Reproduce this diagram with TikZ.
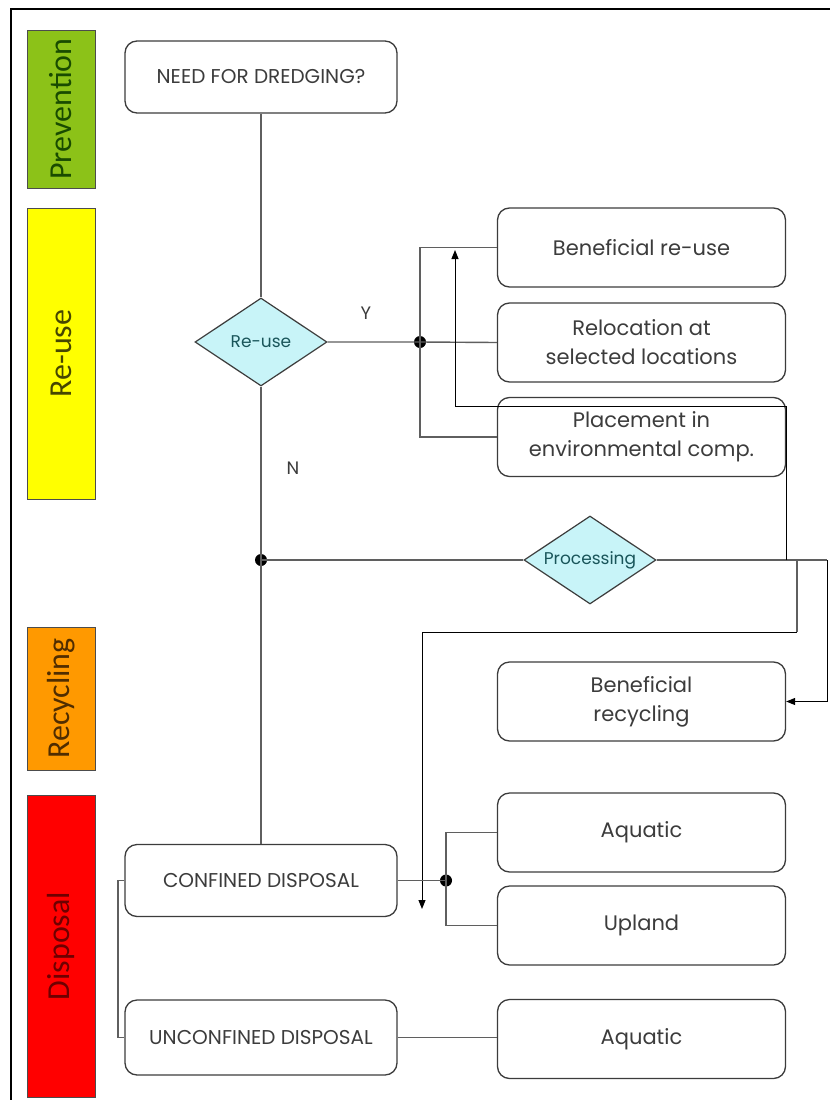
\documentclass[tikz,border=0pt]{standalone}
\usepackage{fontspec}
\usetikzlibrary{shapes.geometric,arrows.meta}
\newfontfamily\boxfont{Poppins}
\newfontfamily\barfont{Carlito}
\definecolor{linegray}{RGB}{95,95,95}
\definecolor{txtgray}{RGB}{60,60,60}
\definecolor{diafill}{RGB}{200,244,248}
\definecolor{diatext}{RGB}{25,85,90}
\definecolor{prevfill}{RGB}{140,194,24}
\definecolor{prevtext}{RGB}{25,75,0}
\definecolor{reusefill}{RGB}{255,255,0}
\definecolor{reusetext}{RGB}{70,70,0}
\definecolor{recyfill}{RGB}{255,153,0}
\definecolor{recytext}{RGB}{80,45,0}
\definecolor{dispfill}{RGB}{255,0,0}
\definecolor{disptext}{RGB}{110,0,0}
\tikzset{
  flowbox/.style={draw=txtgray, line width=1.3pt, rounded corners=12pt, fill=white,
    text=txtgray, font=\boxfont\fontsize{21}{29}\selectfont, align=center,
    minimum width=288pt, minimum height=79pt, inner sep=2pt},
  leftbox/.style={flowbox, minimum width=272pt, minimum height=72pt, font=\boxfont\fontsize{20}{24}\selectfont},
  decision/.style={diamond, draw=txtgray, line width=1.2pt, fill=diafill, text=diatext,
    font=\boxfont\fontsize{17}{20}\selectfont, inner sep=0pt, aspect=1.5,
    minimum width=132pt, minimum height=88pt},
  bar/.style={draw=black!70, line width=0.8pt, minimum width=68pt, inner sep=0pt},
  bartext/.style={rotate=90, font=\barfont\fontsize{32}{32}\selectfont},
  conn/.style={draw=linegray, line width=1.4pt},
  arrline/.style={draw=black, line width=1pt, -{Triangle[length=9pt,width=7pt]}},
  dot/.style={circle, fill=black, inner sep=0pt, minimum size=12pt},
  yn/.style={text=txtgray, font=\boxfont\fontsize{18}{20}\selectfont},
}
\begin{document}
\begin{tikzpicture}[x=1pt,y=-1pt]
\useasboundingbox (0,0) rectangle (830,1100);
\fill[white] (0,0) rectangle (830,1100);
% frame
\draw[black, line width=2.5pt] (11,1100) -- (11,9) -- (830,9);

% category bars
\node[bar, fill=prevfill, minimum height=158pt] (bprev) at (61,109) {};
\node[bartext, text=prevtext] (tprev) at (bprev.center) {Prevention};
\node[bar, fill=reusefill, minimum height=291pt] (breuse) at (61,353.5) {};
\node[bartext, text=reusetext] (treuse) at (breuse.center) {Re-use};
\node[bar, fill=recyfill, minimum height=143pt] (brecy) at (61,698.5) {};
\node[bartext, text=recytext] (trecy) at (brecy.center) {Recycling};
\node[bar, fill=dispfill, minimum height=302pt] (bdisp) at (61,946) {};
\node[bartext, text=disptext] (tdisp) at (bdisp.center) {Disposal};

% main nodes
\node[leftbox] (need) at (261,77) {NEED FOR DREDGING?};
\node[decision] (reuse) at (261,342) {Re-use};
\node[flowbox] (ben) at (641.5,247.5) {Beneficial re-use};
\node[flowbox] (rel) at (641.5,342.5) {Relocation at\\selected locations};
\node[flowbox] (pla) at (641.5,437) {Placement in\\environmental comp.};
\node[decision] (proc) at (590,560) {Processing};
\node[flowbox] (rec) at (641.5,701.5) {Beneficial\\recycling};
\node[leftbox] (conf) at (261,880.5) {CONFINED DISPOSAL};
\node[leftbox, minimum height=75pt] (unconf) at (261,1037.5) {UNCONFINED DISPOSAL};
\node[flowbox] (aq1) at (641.5,832.5) {Aquatic};
\node[flowbox] (up) at (641.5,925.5) {Upland};
\node[flowbox] (aq2) at (641.5,1039) {Aquatic};

% junction dots and helper coordinates
\node[dot] (dy) at (420,342) {};
\node[dot] (dn) at (261,560) {};
\node[dot] (dd) at (446,880.5) {};
\coordinate (pe) at (786,560);
\coordinate (a1) at (455,406);
\coordinate (a2) at (455,250);
\coordinate (pr) at (827,560);
\coordinate (j2) at (797,560);
\coordinate (j3) at (797,632);
\coordinate (a3) at (422,632);
\coordinate (a4) at (422,909);
\coordinate (cl) at (118,880.5);

% labels
\node[yn] (ly) at (366,313) {Y};
\node[yn] (ln) at (293,468) {N};

% connectors
\draw[conn] (need.south) -- (reuse.north);
\draw[conn] (reuse.east) -- (dy.center) -- (rel.west);
\draw[conn] (dy.center) |- (ben.west);
\draw[conn] (dy.center) |- (pla.west);
\draw[conn] (reuse.south) -- (conf.north);
\draw[conn] (dn.center) -- (proc.west);
\draw[conn] (proc.east) -- (pr);
\draw[arrline] (pe) -- (pe |- a1) -- (a1) -- (a2);
\draw[conn] (j2) -- (j3);
\draw[arrline] (j3) -- (a3) -- (a4);
\draw[arrline] (pr) |- (rec.east);
\draw[conn] (conf.east) -- (dd.center);
\draw[conn] (dd.center) |- (aq1.west);
\draw[conn] (dd.center) |- (up.west);
\draw[conn] (conf.west) -- (cl) |- (unconf.west);
\draw[conn] (unconf.east) -- (unconf.east -| aq2.west);
\end{tikzpicture}
\end{document}
